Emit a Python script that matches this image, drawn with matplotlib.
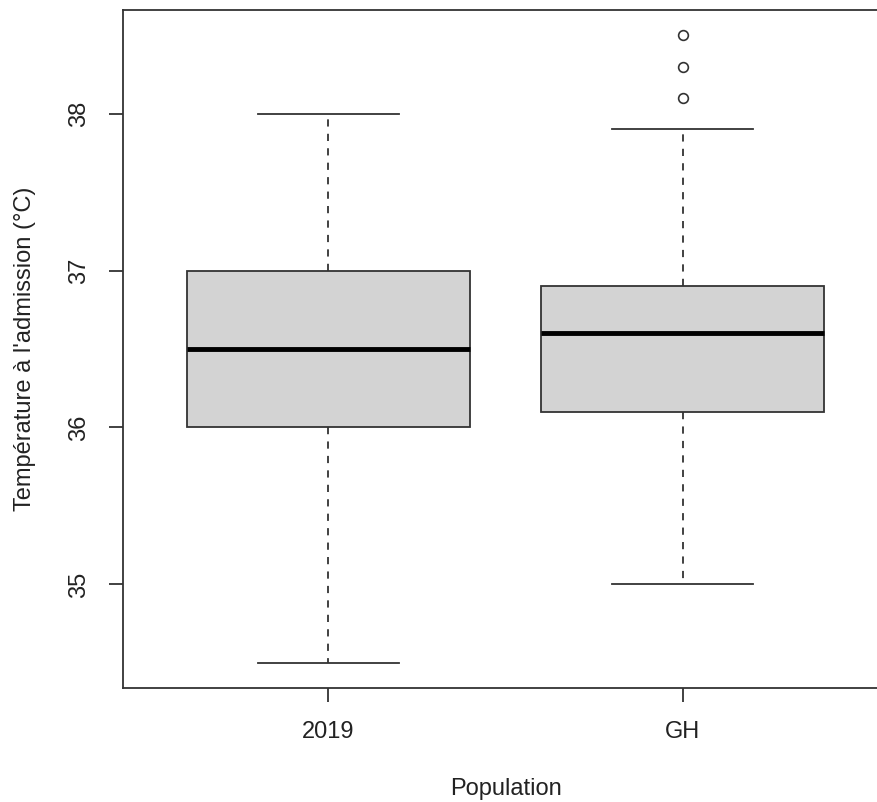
import matplotlib
matplotlib.use("Agg")
from matplotlib import pyplot as plt

# data
groups = ["2019", "GH"]
whisker_low = [34.5, 35.0]
q1 = [36.0, 36.1]
median = [36.5, 36.6]
q3 = [37.0, 36.9]
whisker_high = [38.0, 37.9]
outliers = [[], [38.1, 38.3, 38.5]]

plt.rcParams["font.family"] = ["Liberation Sans", "DejaVu Sans"]
plt.rcParams["font.size"] = 17

W, H = 877, 802
fig = plt.figure(figsize=(W / 100, H / 100), dpi=100)

# R-style plot region; right side runs past the crop like the reference
left, right, top, bottom = 123, 888, 10, 688
ax = fig.add_axes([left / W, (H - bottom) / H, (right - left) / W, (bottom - top) / H])

stats = []
for i, g in enumerate(groups):
    stats.append(dict(label=g, whislo=whisker_low[i], q1=q1[i], med=median[i],
                      q3=q3[i], whishi=whisker_high[i], fliers=outliers[i]))

ink = "#333333"
ax.bxp(stats, positions=[1, 2], widths=0.8, capwidths=0.4, patch_artist=True,
       boxprops=dict(facecolor="#d3d3d3", edgecolor=ink, linewidth=1.3),
       medianprops=dict(color="black", linewidth=3.5, solid_capstyle="butt"),
       whiskerprops=dict(color=ink, linewidth=1.3, linestyle=(0, (4, 4))),
       capprops=dict(color=ink, linewidth=1.3),
       flierprops=dict(marker="o", markersize=7, markerfacecolor="none",
                       markeredgecolor=ink, markeredgewidth=1.2))

ax.set_xlim(0.42, 2.58)
ax.set_ylim(34.34, 38.66)
ax.set_yticks([35, 36, 37, 38])
ax.set_yticklabels(["35", "36", "37", "38"], rotation=90, va="center")

for s in ax.spines.values():
    s.set_color(ink)
    s.set_linewidth(1.3)
ax.tick_params(length=10, width=1.3, color=ink, pad=14, labelcolor="#222222")

# a touch higher than the reference so the descender stays on the canvas
ax.set_xlabel("Population", labelpad=25, color="#222222")
ax.set_ylabel("Température à l'admission (°C)", labelpad=23, color="#222222")

fig.savefig("out.png", dpi=100)
